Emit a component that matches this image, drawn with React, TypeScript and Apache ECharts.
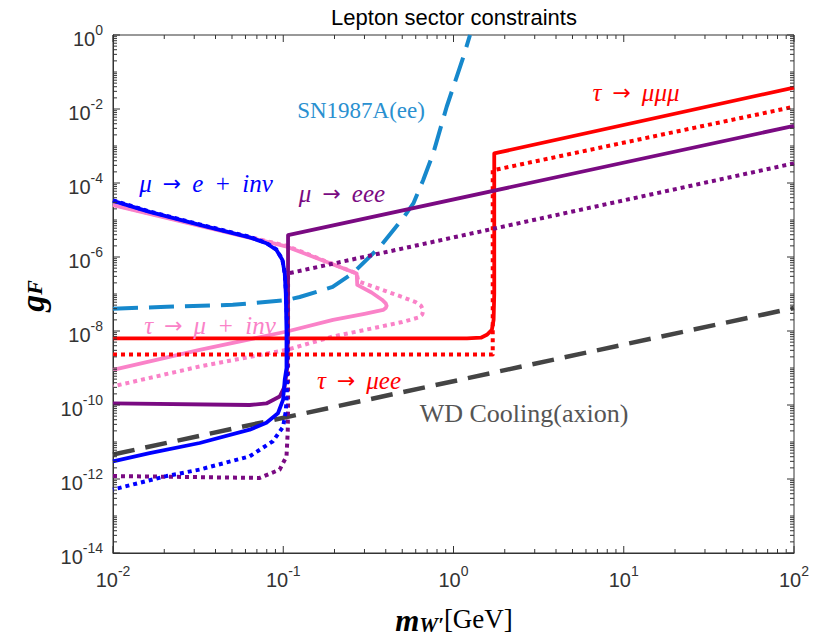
import React, { useEffect, useRef } from "react";
import * as echarts from "echarts";

const X_MIN = 0.01;
const X_MAX = 100;
const Y_MIN = 1e-14;
const Y_MAX = 1;

// SN1987A(ee) – dashed light blue
const snX = [0.01, 0.0207, 0.0505, 0.105, 0.125, 0.195, 0.257, 0.37, 0.505, 0.581, 0.664, 0.76, 0.912, 1.143, 1.25];
const snY = [4.0e-8, 4.5e-8, 5.1e-8, 6.9e-8, 8.3e-8, 1.55e-7, 3.7e-7, 1.9e-6, 1.12e-5, 2.8e-5, 1.2e-4, 6.3e-4, 1.15e-2, 0.257, 1.0];

// mu -> e + inv (blue)
const muEinvSolidX = [0.01, 0.0164, 0.0323, 0.0635, 0.0796, 0.0912, 0.0989, 0.102, 0.1035, 0.1045, 0.1045, 0.102, 0.0998, 0.0931, 0.0796, 0.0635, 0.0323, 0.0164, 0.01];
const muEinvSolidY = [3.3e-5, 1.66e-5, 7.4e-6, 3.4e-6, 2.35e-6, 1.55e-6, 8.3e-7, 3.6e-7, 1.0e-7, 1.0e-8, 1.0e-9, 4.8e-10, 1.4e-10, 6.0e-11, 3.3e-11, 2.15e-11, 9.4e-12, 5.0e-12, 3.0e-12];
const muEinvDotX = [0.01, 0.0164, 0.0323, 0.0635, 0.0796, 0.0912, 0.0989, 0.102, 0.104, 0.1055, 0.1055, 0.105, 0.1035, 0.0998, 0.087, 0.0635, 0.0323, 0.0206, 0.01];
const muEinvDotY = [3.4e-5, 1.7e-5, 7.6e-6, 3.5e-6, 2.4e-6, 1.6e-6, 8.5e-7, 3.6e-7, 1.0e-7, 1.0e-8, 1.0e-9, 2.0e-10, 6.8e-11, 2.6e-11, 1.05e-11, 4.1e-12, 1.8e-12, 1.2e-12, 5.2e-13];

// mu -> eee (purple)
const muEeeSolidX = [0.01, 0.0635, 0.0796, 0.0953, 0.102, 0.1055, 0.1067, 0.1067, 100];
const muEeeSolidY = [1.1e-10, 1.0e-10, 1.1e-10, 1.7e-10, 3.2e-10, 1.0e-9, 1.0e-8, 3.9e-6, 3.5e-3];
const muEeeDotX = [0.01, 0.0728, 0.0953, 0.1045, 0.1063, 0.1067, 0.1067, 100];
const muEeeDotY = [1.2e-12, 1.07e-12, 1.8e-12, 4.1e-12, 2.0e-11, 1.0e-10, 3.6e-7, 3.4e-4];

// tau -> mu + inv (pink)
const tauMuInvSolidX = [0.01, 0.0796, 0.105, 0.27, 0.272, 0.33, 0.38, 0.4, 0.405, 0.4, 0.386, 0.3, 0.196, 0.105, 0.0323, 0.01];
const tauMuInvSolidY = [2.5e-5, 2.6e-6, 1.9e-6, 3.6e-7, 1.77e-7, 1.1e-7, 7.0e-8, 5.6e-8, 4.8e-8, 4.2e-8, 3.7e-8, 2.9e-8, 2.0e-8, 9.7e-9, 3.1e-9, 8.9e-10];
const tauMuInvDotX = [0.01, 0.0796, 0.105, 0.27, 0.276, 0.4, 0.5, 0.6, 0.645, 0.664, 0.655, 0.62, 0.5, 0.37, 0.196, 0.105, 0.0323, 0.01];
const tauMuInvDotY = [2.6e-5, 2.7e-6, 2.0e-6, 3.6e-7, 2.2e-7, 1.2e-7, 8.3e-8, 6.0e-8, 4.8e-8, 3.6e-8, 2.8e-8, 2.3e-8, 1.75e-8, 1.3e-8, 7.1e-9, 3.1e-9, 1.1e-9, 3.2e-10];

// tau -> mu ee / mu mu mu (red)
const tauSolidX = [0.01, 1.2, 1.45, 1.57, 1.68, 1.72, 1.735, 1.735, 100];
const tauSolidY = [6.3e-9, 6.3e-9, 6.6e-9, 7.9e-9, 1.07e-8, 2.0e-8, 1.0e-7, 6.3e-4, 3.8e-2];
const tauDotX = [0.01, 1.7, 1.7, 100];
const tauDotY = [2.3e-9, 2.3e-9, 2.2e-4, 1.15e-2];

// WD Cooling (axion) – dashed dark gray
const wdX = [0.01, 100];
const wdY = [4.6e-12, 4.2e-8];

// axis ticks / labels
const xTickDecades = [-2, -1, 0, 1];
const yTickDecades = [-14, -13, -12, -11, -10, -9, -8, -7, -6, -5, -4, -3, -2, -1];
const mantissas = [1, 2, 3, 4, 5, 6, 7, 8, 9];
const xLabelExponents = [-2, -1, 0, 1, 2];
const yLabelExponents = [-14, -12, -10, -8, -6, -4, -2, 0];

const zip = (xs: number[], ys: number[]) => xs.map((x, i) => [x, ys[i]]);

const BLUE = "#0000ff";
const PURPLE = "#7a0a82";
const PINK = "#fa82c8";
const RED = "#ff0000";
const SNBLUE = "#1688cc";
const WDGRAY = "#444444";
const AXIS = "#333333";
const LABEL = "#333333";

const SERIF = "'Liberation Serif', 'DejaVu Serif', serif";
const SANS = "'Liberation Sans', Arial, sans-serif";
const ARROW_FONT = "'DejaVu Sans', sans-serif";
const BASE_SIZE = 20;
const SUP_SIZE = 14;

const textWidth = (s: string, size: number) =>
  s.split("").reduce((w, c) => w + (c === "-" ? 0.333 : 0.556), 0) * size;

function lineSeries(name: string, xs: number[], ys: number[], color: string, type: any, width: number, z: number) {
  return {
    name,
    type: "line",
    data: zip(xs, ys),
    showSymbol: false,
    symbol: "none",
    smooth: false,
    z,
    lineStyle: { color, width, type, cap: "butt", join: "round" },
    emphasis: { disabled: true },
  };
}

// parts: [text, kind] kind: "i" italic, "r" roman, "a" arrow
function mathLabel(parts: [string, string][], color: string, x: number, y: number, size: number) {
  const text = parts.map(([t, k]) => `{${k}|${t}}`).join("");
  return {
    type: "text",
    x,
    y,
    z: 100,
    style: {
      text,
      align: "center",
      verticalAlign: "middle",
      fill: color,
      font: `${size}px ${SERIF}`,
      rich: {
        i: { fontStyle: "italic", fontSize: size, fontFamily: SERIF, fill: color, lineHeight: size + 4 },
        r: { fontStyle: "normal", fontSize: size, fontFamily: SERIF, fill: color, lineHeight: size + 4 },
        a: { fontStyle: "normal", fontSize: size - 3, fontFamily: ARROW_FONT, fill: color, lineHeight: size + 4 },
      },
    },
  };
}

const SP = "\u2002";
const ARROW: [string, string] = [SP + "→" + SP, "a"];
const PLUS: [string, string] = [SP + "+" + SP, "r"];

export default function App() {
  const ref = useRef<HTMLDivElement>(null);

  useEffect(() => {
    if (!ref.current) return;
    const chart = echarts.init(ref.current, null, { renderer: "svg" });

    const tickData: number[][] = [];
    xTickDecades.forEach((d) =>
      mantissas.forEach((m) => tickData.push([m * Math.pow(10, d), Y_MIN, 0, m === 1 ? 7 : 4]))
    );
    tickData.push([X_MAX, Y_MIN, 0, 7]);
    yTickDecades.forEach((d) =>
      mantissas.forEach((m) => tickData.push([X_MIN, m * Math.pow(10, d), 1, m === 1 && d % 2 === 0 ? 7 : 4]))
    );
    tickData.push([X_MIN, Y_MAX, 1, 7]);

    const labelData: number[][] = [];
    xLabelExponents.forEach((e) => labelData.push([Math.pow(10, e), Y_MIN, 0, e]));
    yLabelExponents.forEach((e) => labelData.push([X_MIN, Math.pow(10, e), 1, e]));

    const option: any = {
      animation: false,
      backgroundColor: "#ffffff",
      grid: {
        left: 113,
        right: 33,
        top: 35,
        bottom: 90,
        show: true,
        borderColor: AXIS,
        borderWidth: 1,
        backgroundColor: "#ffffff",
      },
      xAxis: {
        type: "log",
        logBase: 10,
        min: X_MIN,
        max: X_MAX,
        axisLine: { show: true, lineStyle: { color: AXIS, width: 1 } },
        axisTick: { show: false },
        splitLine: { show: false },
        axisLabel: { show: false },
      },
      yAxis: {
        type: "log",
        logBase: 10,
        min: Y_MIN,
        max: Y_MAX,
        axisLine: { show: true, lineStyle: { color: AXIS, width: 1 } },
        axisTick: { show: false },
        splitLine: { show: false },
        axisLabel: { show: false },
      },
      series: [
        {
          type: "custom",
          name: "ticks",
          silent: true,
          z: 20,
          clip: false,
          data: tickData,
          encode: { x: 0, y: 1 },
          renderItem: (_p: any, api: any) => {
            const v0 = api.value(0);
            const v1 = api.value(1);
            const kind = api.value(2);
            const len = api.value(3);
            const style = { stroke: AXIS, lineWidth: 1 };
            if (kind === 0) {
              const b = api.coord([v0, Y_MIN]);
              const t = api.coord([v0, Y_MAX]);
              return {
                type: "group",
                children: [
                  { type: "line", shape: { x1: b[0], y1: b[1], x2: b[0], y2: b[1] - len }, style },
                  { type: "line", shape: { x1: t[0], y1: t[1], x2: t[0], y2: t[1] + len }, style },
                ],
              };
            }
            const l = api.coord([X_MIN, v1]);
            const r = api.coord([X_MAX, v1]);
            return {
              type: "group",
              children: [
                { type: "line", shape: { x1: l[0], y1: l[1], x2: l[0] + len, y2: l[1] }, style },
                { type: "line", shape: { x1: r[0], y1: r[1], x2: r[0] - len, y2: r[1] }, style },
              ],
            };
          },
        },
        {
          type: "custom",
          name: "tick labels",
          silent: true,
          z: 20,
          clip: false,
          data: labelData,
          encode: { x: 0, y: 1 },
          renderItem: (_p: any, api: any) => {
            const kind = api.value(2);
            const exp = String(api.value(3));
            const p = api.coord([api.value(0), api.value(1)]);
            const wBase = textWidth("10", BASE_SIZE);
            const wSup = textWidth(exp, SUP_SIZE);
            let baseX: number;
            let baseY: number;
            if (kind === 0) {
              baseX = p[0] - (wBase + wSup) / 2;
              baseY = p[1] + 27;
            } else {
              baseX = p[0] - 10 - wSup - wBase;
              baseY = p[1] + 4;
            }
            return {
              type: "group",
              children: [
                {
                  type: "text",
                  x: baseX,
                  y: baseY,
                  style: { text: "10", fill: LABEL, font: `${BASE_SIZE}px ${SANS}`, align: "left", verticalAlign: "middle" },
                },
                {
                  type: "text",
                  x: baseX + wBase,
                  y: baseY - 9,
                  style: { text: exp, fill: LABEL, font: `${SUP_SIZE}px ${SANS}`, align: "left", verticalAlign: "middle" },
                },
              ],
            };
          },
        },
        lineSeries("SN1987A(ee)", snX, snY, SNBLUE, [25, 11], 4, 3),
        lineSeries("WD Cooling(axion)", wdX, wdY, WDGRAY, [22, 11], 4.5, 3),
        lineSeries("tau->mu+inv dotted", tauMuInvDotX, tauMuInvDotY, PINK, [4, 4], 4, 4),
        lineSeries("tau->mu+inv", tauMuInvSolidX, tauMuInvSolidY, PINK, "solid", 3.8, 4),
        lineSeries("tau->mu ee dotted", tauDotX, tauDotY, RED, [4, 4], 4, 5),
        lineSeries("tau->mu ee", tauSolidX, tauSolidY, RED, "solid", 3.8, 5),
        lineSeries("mu->eee dotted", muEeeDotX, muEeeDotY, PURPLE, [4, 4], 4, 6),
        lineSeries("mu->eee", muEeeSolidX, muEeeSolidY, PURPLE, "solid", 3.8, 6),
        lineSeries("mu->e+inv dotted", muEinvDotX, muEinvDotY, BLUE, [4, 4], 4, 7),
        lineSeries("mu->e+inv", muEinvSolidX, muEinvSolidY, BLUE, "solid", 3.8, 7),
      ],
      graphic: [
        {
          type: "text",
          x: 454,
          y: 17,
          style: { text: "Lepton sector constraints", align: "center", verticalAlign: "middle", fill: "#000", font: `22px ${SANS}` },
        },
        {
          type: "text",
          x: 454,
          y: 620,
          style: {
            text: "{m|m}{w|W′}{r|[GeV]}",
            align: "center",
            verticalAlign: "middle",
            fill: "#000",
            font: `26px ${SERIF}`,
            rich: {
              m: { fontSize: 31, fontWeight: "bold", fontStyle: "italic", fontFamily: SERIF, fill: "#000", lineHeight: 30, verticalAlign: "top" },
              w: { fontSize: 21, fontWeight: "bold", fontStyle: "italic", fontFamily: SERIF, fill: "#000", lineHeight: 20, verticalAlign: "bottom", padding: [12, 0, 0, 0] },
              r: { fontSize: 27, fontFamily: SERIF, fill: "#000", lineHeight: 30, verticalAlign: "top" },
            },
          },
        },
        {
          type: "text",
          x: 30,
          y: 296,
          rotation: Math.PI / 2,
          style: {
            text: "{g|g}{f|F}",
            align: "center",
            verticalAlign: "middle",
            fill: "#000",
            font: `30px ${SERIF}`,
            rich: {
              g: { fontSize: 34, fontWeight: "bold", fontStyle: "italic", fontFamily: SERIF, fill: "#000", lineHeight: 30, verticalAlign: "top" },
              f: { fontSize: 22, fontWeight: "bold", fontStyle: "italic", fontFamily: SERIF, fill: "#000", lineHeight: 20, verticalAlign: "bottom", padding: [14, 0, 0, 0] },
            },
          },
        },
        mathLabel([["SN1987A(ee)", "r"]], "#2a90d0", 361, 110, 23),
        mathLabel([["μ", "i"], ARROW, ["e", "i"], PLUS, ["inv", "i"]], BLUE, 206, 183, 25),
        mathLabel([["μ", "i"], ARROW, ["eee", "i"]], PURPLE, 342, 193, 25),
        mathLabel([["τ", "i"], ARROW, ["μ", "i"], PLUS, ["inv", "i"]], PINK, 210, 325, 25),
        mathLabel([["τ", "i"], ARROW, ["μee", "i"]], RED, 359, 380, 25),
        mathLabel([["τ", "i"], ARROW, ["μμμ", "i"]], RED, 636, 92, 25),
        mathLabel([["WD Cooling(axion)", "r"]], "#555555", 524, 413, 26),
      ],
    };

    chart.setOption(option);
    return () => chart.dispose();
  }, []);

  return (
    <div
      ref={ref}
      style={{ position: "fixed", left: 0, top: 0, width: 827, height: 643, background: "#fff" }}
    />
  );
}
